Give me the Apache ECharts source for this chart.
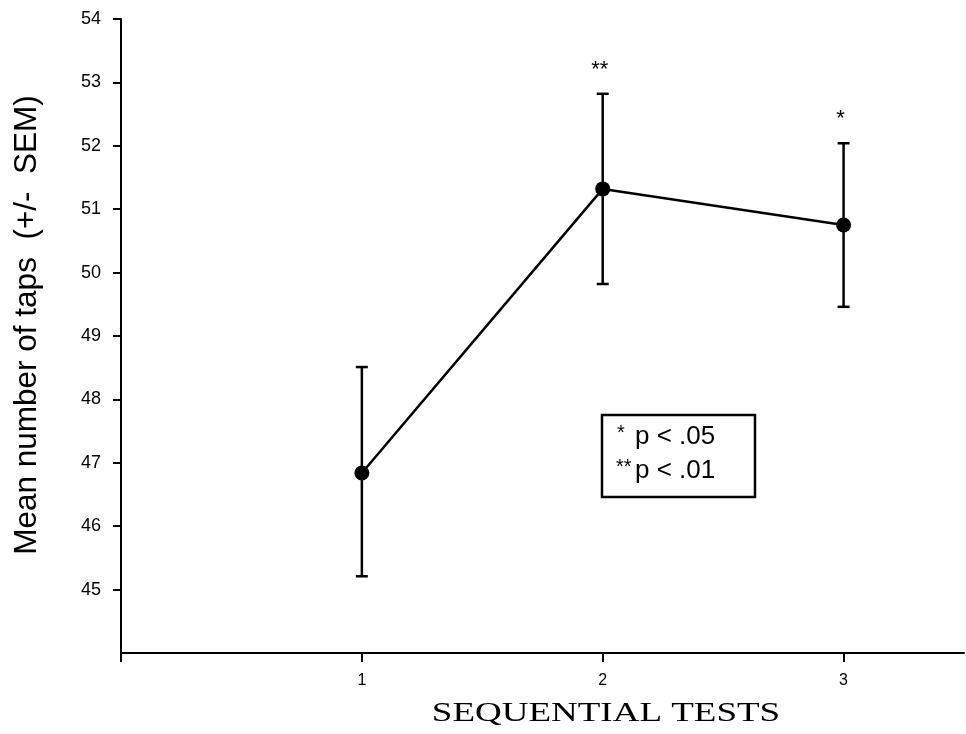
<!DOCTYPE html>
<html>
<head>
<meta charset="utf-8">
<script src="https://cdn.jsdelivr.net/npm/echarts@6/dist/echarts.min.js"></script>
<style>html,body{margin:0;padding:0;background:#fff}#c{width:966px;height:734px}</style>
</head>
<body>
<div id="c"></div>
<script>
const tests = [1, 2, 3];
const means = [46.84, 51.32, 50.75];
const lowers = [45.21, 49.82, 49.46];
const uppers = [48.51, 52.82, 52.04];
const sigLabels = ['', '**', '*'];
const yTicks = [45, 46, 47, 48, 49, 50, 51, 52, 53, 54];
const xTicks = [1, 2, 3];
const xAxisTitle = 'SEQUENTIAL TESTS';
const yAxisTitle = 'Mean number of taps  (+/-  SEM)';
const noteStars = ['*', '**'];
const noteTexts = ['p < .05', 'p < .01'];

const chart = echarts.init(document.getElementById('c'));
const errData = tests.map((t, i) => [t, lowers[i], uppers[i]]);
chart.setOption({
  animation: false,
  grid: { left: 121, right: 2, top: 19, bottom: 81 },
  xAxis: {
    type: 'value', min: 0, max: 3.5, interval: 1,
    axisLine: { lineStyle: { color: '#000', width: 2 } },
    axisTick: { show: true, inside: false, length: 9, lineStyle: { color: '#000', width: 2 }, customValues: [0].concat(xTicks) },
    axisLabel: { customValues: xTicks, color: '#000', fontFamily: 'Liberation Sans', fontSize: 16, margin: 20 },
    splitLine: { show: false }
  },
  yAxis: {
    type: 'value', min: 44, max: 54, interval: 1,
    axisLine: { lineStyle: { color: '#000', width: 2 } },
    axisTick: { show: true, inside: false, length: 8, lineStyle: { color: '#000', width: 2 }, customValues: yTicks },
    axisLabel: { customValues: yTicks, color: '#000', fontFamily: 'Liberation Sans', fontSize: 18, margin: 20 },
    splitLine: { show: false }
  },
  series: [
    {
      type: 'custom',
      data: errData,
      z: 3,
      renderItem: function (params, api) {
        const x = api.value(0);
        const lo = api.coord([x, api.value(1)]);
        const hi = api.coord([x, api.value(2)]);
        const cap = 6;
        const st = { stroke: '#000', lineWidth: 2.5 };
        const lab = sigLabels[params.dataIndex];
        return {
          type: 'group',
          children: [
            { type: 'line', shape: { x1: lo[0], y1: lo[1], x2: hi[0], y2: hi[1] }, style: st },
            { type: 'line', shape: { x1: lo[0] - cap, y1: lo[1], x2: lo[0] + cap, y2: lo[1] }, style: st },
            { type: 'line', shape: { x1: hi[0] - cap, y1: hi[1], x2: hi[0] + cap, y2: hi[1] }, style: st },
            { type: 'text', style: { text: lab, x: hi[0] - 3, y: hi[1] - 24, textAlign: 'center', textVerticalAlign: 'middle', fill: '#000', font: '22px "Liberation Sans"' } }
          ]
        };
      }
    },
    {
      type: 'line',
      data: tests.map((t, i) => [t, means[i]]),
      symbol: 'circle', symbolSize: 15,
      itemStyle: { color: '#000' },
      lineStyle: { color: '#000', width: 2.5 },
      z: 4
    }
  ],
  graphic: [
    { type: 'rect', shape: { x: 602, y: 415, width: 153, height: 82 }, style: { fill: '#fff', stroke: '#000', lineWidth: 2.5 } },
    { type: 'text', x: 617, y: 433, style: { text: noteStars[0], textVerticalAlign: 'middle', fill: '#000', font: '20px "Liberation Sans"' } },
    { type: 'text', x: 635, y: 437, style: { text: noteTexts[0], textVerticalAlign: 'middle', fill: '#000', font: '26px "Liberation Sans"' } },
    { type: 'text', x: 616, y: 467, style: { text: noteStars[1], textVerticalAlign: 'middle', fill: '#000', font: '20px "Liberation Sans"' } },
    { type: 'text', x: 635, y: 471, style: { text: noteTexts[1], textVerticalAlign: 'middle', fill: '#000', font: '26px "Liberation Sans"' } },
    { type: 'text', x: 606, y: 714, scaleX: 1.37, style: { text: xAxisTitle, textAlign: 'center', textVerticalAlign: 'middle', fill: '#000', font: '27px "Liberation Serif"' } },
    { type: 'text', x: 27, y: 325, rotation: Math.PI / 2, style: { text: yAxisTitle, textAlign: 'center', textVerticalAlign: 'middle', fill: '#000', font: '31.5px "Liberation Sans"' } }
  ]
});
</script>
</body>
</html>
